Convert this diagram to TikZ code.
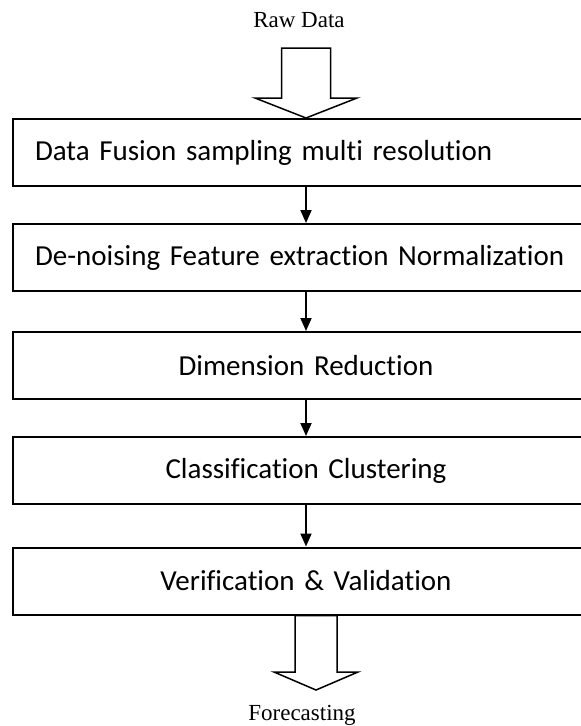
\documentclass[tikz,border=0pt]{standalone}
\usepackage{fontspec}
\setmainfont{Liberation Serif}
\newfontfamily\boxfont[RawFeature=-liga,WordSpace=0.8]{Carlito}
\usetikzlibrary{arrows.meta}

\begin{document}
\begin{tikzpicture}[x=1pt,y=-1pt,
  stage/.style={draw, line width=2pt, minimum height=67pt, text width=542pt,
    inner xsep=22pt, font=\boxfont\fontsize{29}{34}\selectfont},
  endtext/.style={anchor=base, font=\fontsize{23}{27}\selectfont},
  flow/.style={line width=1.8pt, -{Triangle[width=11pt,length=13pt]}},
  blockarrow/.style={draw, line width=1.5pt, fill=white, line join=miter}]
\useasboundingbox (0,0) rectangle (581,726);

\node[endtext] (raw) at (299,27) {Raw Data};
\node[stage, align=left] (s1) at (306,152.5) {Data Fusion sampling multi resolution};
\node[stage, align=left] (s2) at (306,257.5) {De-noising Feature extraction Normalization};
\node[stage, align=center] (s3) at (306,365.5) {Dimension Reduction};
\node[stage, align=center] (s4) at (306,470.5) {Classification Clustering};
\node[stage, align=center] (s5) at (306,581) {Verification \& Validation};
\node[endtext] (fc) at (302,720) {Forecasting};

\draw[flow] (s1) -- (s2);
\draw[flow] (s2) -- (s3);
\draw[flow] (s3) -- (s4);
\draw[flow] (s4) -- (s5);

\coordinate (intop) at (306,48);
\draw[blockarrow] (s1.north) -- ++(-51,-20) -- ++(26.5,0) coordinate (il) -- (il |- intop)
  -- ++(49,0) coordinate (ir) -- (ir |- il) -- ++(26.5,0) -- cycle;

\coordinate (out) at (316,690);
\draw[blockarrow] (out) -- ++(-42,-18) -- ++(21,0) coordinate (ol) -- (ol |- s5.south)
  -- ++(42,0) coordinate (or) -- (or |- ol) -- ++(21,0) -- cycle;
\end{tikzpicture}
\end{document}
